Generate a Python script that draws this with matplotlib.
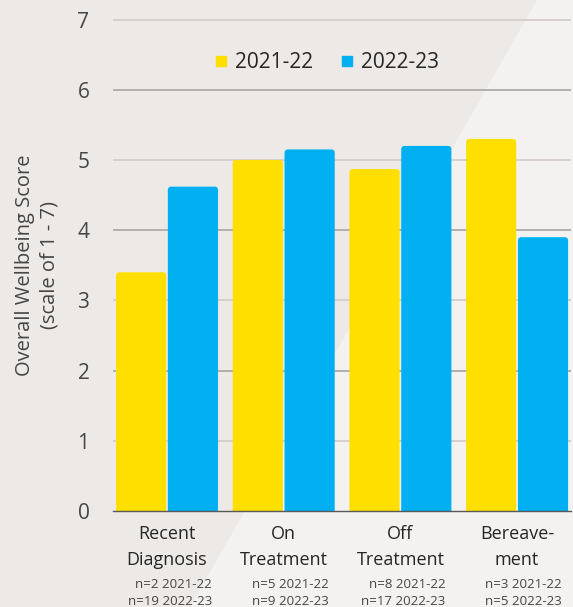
import matplotlib
matplotlib.use('Agg')
import matplotlib.pyplot as plt
import matplotlib.patches as mpatches
from matplotlib.lines import Line2D
import numpy as np

plt.rcParams['font.family'] = ['Open Sans', 'DejaVu Sans']

categories = ['Recent\nDiagnosis', 'On\nTreatment', 'Off\nTreatment', 'Bereave-\nment']
years = ['2021-22', '2022-23']
scores_2122 = [3.4, 5.0, 4.87, 5.3]
scores_2223 = [4.62, 5.15, 5.2, 3.9]
n_2122 = [2, 5, 8, 3]
n_2223 = [19, 9, 17, 5]

yellow = '#FFDF00'
blue = '#00B0F0'
bg_dark = '#ECE9E6'
bg_light = '#F3F2F1'
text_col = '#454545'

W, H = 573, 607
fig = plt.figure(figsize=(W / 100, H / 100), dpi=100, facecolor=bg_dark)

# lighter diagonal panel on the right
fig.patches.append(mpatches.Polygon(
    [(537 / W, 1), (1, 1), (1, 0), (190 / W, 0)],
    closed=True, transform=fig.transFigure, facecolor=bg_light,
    edgecolor='none', zorder=-1))

ax = fig.add_axes([113 / W, 96 / H, 458 / W, 509 / H])
ax.set_facecolor('none')
ax.set_xlim(-0.463, 3.462)
ax.set_ylim(0, 7.25)
for s in ax.spines.values():
    s.set_visible(False)

# alternating grid line colours
for v in range(1, 8):
    col = '#D5CDCB' if v % 2 else '#ABABAB'
    ax.axhline(v, color=col, lw=1.3, zorder=1)

x = np.arange(len(categories))
bw = 0.43
off = 0.222
b1 = ax.bar(x - off, scores_2122, bw, color=yellow, zorder=2)
b2 = ax.bar(x + off, scores_2223, bw, color=blue, zorder=2)

# swap the plain bars for ones with slightly rounded tops
px_x = 458 / (3.462 + 0.463)
px_y = 509 / 7.25
for bars in (b1, b2):
    for p in bars:
        p.set_visible(False)
        rb = mpatches.FancyBboxPatch(
            (p.get_x(), -0.5), p.get_width(), p.get_height() + 0.5,
            boxstyle='round,pad=0,rounding_size=%f' % (3.5 / px_x),
            mutation_aspect=px_x / px_y,
            facecolor=p.get_facecolor(), edgecolor='none', zorder=2)
        ax.add_patch(rb)

ax.axhline(0, color='#595959', lw=1.0, zorder=3, clip_on=False)

ax.set_yticks(range(0, 8))
ax.tick_params(axis='y', length=0, pad=17, labelsize=15, labelcolor=text_col)
ax.set_xticks(x)
ax.set_xticklabels(categories, fontsize=13, color='#262626', linespacing=1.55)
ax.tick_params(axis='x', length=0, pad=10)

for i in range(len(categories)):
    ax.text(i + 0.385, -0.96, 'n=%d %s\nn=%d %s' % (n_2122[i], years[0], n_2223[i], years[1]),
            ha='right', va='top', fontsize=9.5, color=text_col,
            linespacing=1.4, multialignment='right')

fig.text(37 / W, 1 - 265 / H, 'Overall Wellbeing Score\n(scale of 1 - 7)',
         rotation=90, ha='center', va='center', multialignment='center',
         fontsize=14.5, color=text_col, linespacing=1.3)

handles = [Line2D([], [], ls='none', marker='s', markersize=7, color=c)
           for c in (yellow, blue)]
fig.legend(handles, years, loc='center', bbox_to_anchor=(327 / W, 1 - 63 / H),
           ncol=2, frameon=False, handlelength=0.6,
           handletextpad=0.4, columnspacing=1.3, labelcolor='#262626',
           prop={'size': 15})

fig.savefig('out.png', dpi=100, facecolor=fig.get_facecolor())
